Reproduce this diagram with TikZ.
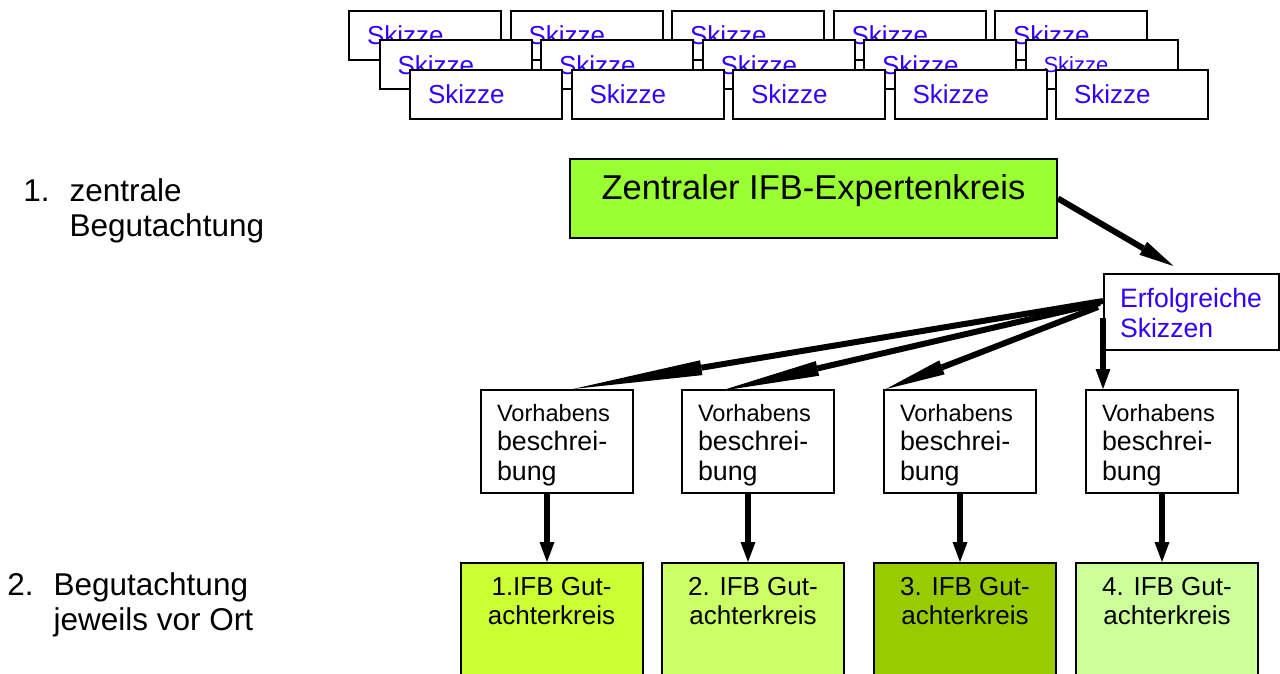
\documentclass[tikz,border=0pt]{standalone}
\usepackage{fontspec}
\setmainfont{Liberation Sans}
\usetikzlibrary{arrows.meta,calc}
\definecolor{skizzenblau}{RGB}{51,0,255}
\definecolor{expertengruen}{RGB}{153,255,51}
\definecolor{gutachtA}{RGB}{204,255,51}
\definecolor{gutachtB}{RGB}{204,255,102}
\definecolor{gutachtC}{RGB}{153,204,0}
\definecolor{gutachtD}{RGB}{204,255,153}
\tikzset{
	kasten/.style={draw=black, line width=1pt, fill=white},
	skizze/.style={kasten, minimum width=76pt, minimum height=24.5pt, text width=58pt, inner xsep=9pt, align=left, text=skizzenblau, font=\fontsize{13}{15.6}\selectfont},
	vorhaben/.style={kasten, minimum width=76pt, inner ysep=0pt, text height=15.5pt, text depth=36pt, text width=60pt, inner xsep=8pt, align=left, font=\fontsize{13.4}{14.75}\selectfont},
	gutachter/.style={kasten, anchor=north, minimum width=91pt, inner ysep=0pt, text height=30.5pt, text depth=30.5pt, align=center, font=\fontsize{13}{14.5}\selectfont},
	liste/.style={anchor=base west, inner sep=0pt, align=left, font=\fontsize{15.75}{17.5}\selectfont},
	pfeil/.style={line width=3pt, -{Triangle[length=#1, width=7.5pt, line width=0pt]}},
	pfeil/.default=10pt
}
\begin{document}
\begin{tikzpicture}[x=0.5pt, y=-0.5pt]
		%%%%% START %%%%%
		\path[use as bounding box] (0,0) rectangle (1280,674);
		\clip (0,0) rectangle (1280,674);
		
		% Skizzen-Stapel
		\foreach \r in {0,1,2}
			\foreach \c in {0,...,4}
				\node[skizze] (sk\r\c) at ({425+30.5*\r+161.5*\c},{35.5+29.5*\r}) {\ifnum\r\c=14 \fontsize{11}{13}\selectfont\fi Skizze};
		
		\node[liste] (stufe1) at (23,236) {1.\hspace{10pt}zentrale\\\phantom{1.}\hspace{10pt}Begutachtung};
		\node[liste] (stufe2) at (7,630) {2.\hspace{10pt}Begutachtung\\\phantom{2.}\hspace{10pt}jeweils vor Ort};
		
		\node[kasten, fill=expertengruen, anchor=north, minimum width=243.5pt, inner ysep=0pt, text height=20pt, text depth=19.5pt, font=\fontsize{17.25}{20}\selectfont] (zentral) at (813.5,158) {Zentraler IFB-Expertenkreis};
		
		\node[kasten, minimum width=87.5pt, inner ysep=0pt, text height=16.5pt, text depth=21.5pt, text width=71.5pt, inner xsep=8pt, align=left, text=skizzenblau, font=\fontsize{13.3}{15}\selectfont] (erfolg) at (1191.5,312) {Erfolgreiche\\Skizzen};
		
		\foreach \i/\x in {1/557,2/758,3/960,4/1162}
			\node[vorhaben] (v\i) at (\x,441.5) {{\fontsize{11.8}{14.75}\selectfont Vorhabens}\\beschrei-\\bung};
		
		\foreach \i/\x/\farbe/\nr in {1/551.5/gutachtA/1.IFB,2/753/gutachtB/2. IFB,3/965/gutachtC/3. IFB,4/1167/gutachtD/4. IFB}
			\node[gutachter, fill=\farbe] (g\i) at (\x,562) {\nr\ Gut-\\achterkreis};
		
		% Pfeile
		\draw[pfeil=17.5pt] (zentral.east) -- ($(erfolg.north)+(-18,-7)$);
		
		\draw[pfeil=65pt] ($(erfolg.west)+(0,-11)$) -- ($(v1.north)+(16,0)$);
		\draw[pfeil=50pt] ($(erfolg.west)+(-3,-9)$) -- ($(v2.north)+(-38,2)$);
		\draw[pfeil=30pt] ($(erfolg.west)+(-5,-5)$) -- ($(v3.north west)+(3,0)$);
		\draw[pfeil] ([yshift=-3pt]erfolg.west) -- (erfolg.west |- v4.north);
		
		\foreach \i/\d in {1/-10,2/-10,3/0,4/0}
			\draw[pfeil] ($(v\i.south)+(\d,0)$) -- ($(v\i.south |- g\i.north)+(\d,0)$);
		
		%%%%% END %%%%%
\end{tikzpicture}
\end{document}
